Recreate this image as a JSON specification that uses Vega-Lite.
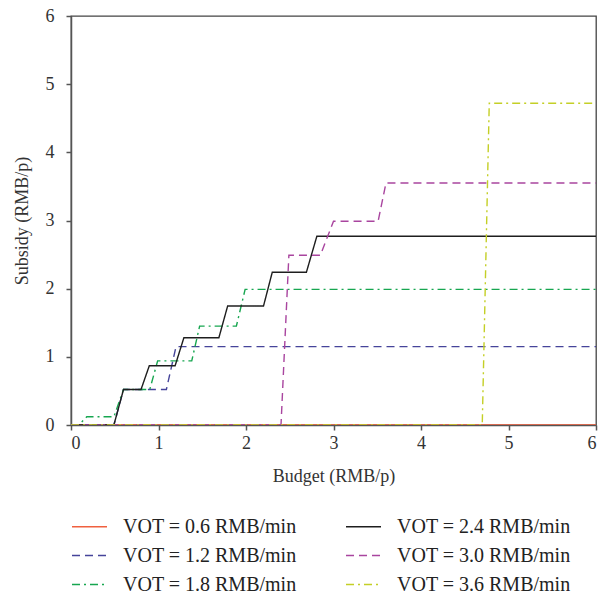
{
  "$schema": "https://vega.github.io/schema/vega-lite/v6.json",
  "width": 525,
  "height": 409,
  "autosize": {"type": "none"},
  "padding": {"left": 71, "top": 16, "right": 2, "bottom": 168},
  "config": {
    "font": "Liberation Serif",
    "view": {"stroke": "#444444", "strokeWidth": 1.3},
    "axis": {
      "grid": false,
      "domainColor": "#555555",
      "domainWidth": 1.5,
      "tickColor": "#555555",
      "tickWidth": 1.5,
      "tickSize": 5,
      "labelFont": "Liberation Serif",
      "labelFontSize": 18,
      "labelColor": "#333333",
      "titleFont": "Liberation Serif",
      "titleFontSize": 18,
      "titleFontWeight": "normal",
      "titleColor": "#333333"
    }
  },
  "data": {
    "values": [
      {"vot": "VOT = 0.6 RMB/min", "budget": 0, "subsidy": 0},
      {"vot": "VOT = 0.6 RMB/min", "budget": 6, "subsidy": 0},

      {"vot": "VOT = 1.2 RMB/min", "budget": 0, "subsidy": 0},
      {"vot": "VOT = 1.2 RMB/min", "budget": 0.49, "subsidy": 0},
      {"vot": "VOT = 1.2 RMB/min", "budget": 0.6, "subsidy": 0.52},
      {"vot": "VOT = 1.2 RMB/min", "budget": 1.09, "subsidy": 0.52},
      {"vot": "VOT = 1.2 RMB/min", "budget": 1.2, "subsidy": 1.15},
      {"vot": "VOT = 1.2 RMB/min", "budget": 6, "subsidy": 1.15},

      {"vot": "VOT = 1.8 RMB/min", "budget": 0, "subsidy": 0},
      {"vot": "VOT = 1.8 RMB/min", "budget": 0.09, "subsidy": 0},
      {"vot": "VOT = 1.8 RMB/min", "budget": 0.18, "subsidy": 0.12},
      {"vot": "VOT = 1.8 RMB/min", "budget": 0.49, "subsidy": 0.12},
      {"vot": "VOT = 1.8 RMB/min", "budget": 0.6, "subsidy": 0.52},
      {"vot": "VOT = 1.8 RMB/min", "budget": 0.9, "subsidy": 0.52},
      {"vot": "VOT = 1.8 RMB/min", "budget": 0.99, "subsidy": 0.94},
      {"vot": "VOT = 1.8 RMB/min", "budget": 1.38, "subsidy": 0.94},
      {"vot": "VOT = 1.8 RMB/min", "budget": 1.47, "subsidy": 1.45},
      {"vot": "VOT = 1.8 RMB/min", "budget": 1.89, "subsidy": 1.45},
      {"vot": "VOT = 1.8 RMB/min", "budget": 1.99, "subsidy": 1.99},
      {"vot": "VOT = 1.8 RMB/min", "budget": 6, "subsidy": 1.99},

      {"vot": "VOT = 2.4 RMB/min", "budget": 0, "subsidy": 0},
      {"vot": "VOT = 2.4 RMB/min", "budget": 0.49, "subsidy": 0},
      {"vot": "VOT = 2.4 RMB/min", "budget": 0.6, "subsidy": 0.52},
      {"vot": "VOT = 2.4 RMB/min", "budget": 0.8, "subsidy": 0.52},
      {"vot": "VOT = 2.4 RMB/min", "budget": 0.895, "subsidy": 0.87},
      {"vot": "VOT = 2.4 RMB/min", "budget": 1.19, "subsidy": 0.87},
      {"vot": "VOT = 2.4 RMB/min", "budget": 1.29, "subsidy": 1.28},
      {"vot": "VOT = 2.4 RMB/min", "budget": 1.69, "subsidy": 1.28},
      {"vot": "VOT = 2.4 RMB/min", "budget": 1.79, "subsidy": 1.745},
      {"vot": "VOT = 2.4 RMB/min", "budget": 2.2, "subsidy": 1.745},
      {"vot": "VOT = 2.4 RMB/min", "budget": 2.3, "subsidy": 2.24},
      {"vot": "VOT = 2.4 RMB/min", "budget": 2.69, "subsidy": 2.24},
      {"vot": "VOT = 2.4 RMB/min", "budget": 2.81, "subsidy": 2.77},
      {"vot": "VOT = 2.4 RMB/min", "budget": 6, "subsidy": 2.77},

      {"vot": "VOT = 3.0 RMB/min", "budget": 0, "subsidy": 0},
      {"vot": "VOT = 3.0 RMB/min", "budget": 2.4, "subsidy": 0},
      {"vot": "VOT = 3.0 RMB/min", "budget": 2.49, "subsidy": 2.49},
      {"vot": "VOT = 3.0 RMB/min", "budget": 2.85, "subsidy": 2.49},
      {"vot": "VOT = 3.0 RMB/min", "budget": 3.0, "subsidy": 2.99},
      {"vot": "VOT = 3.0 RMB/min", "budget": 3.51, "subsidy": 2.99},
      {"vot": "VOT = 3.0 RMB/min", "budget": 3.6, "subsidy": 3.55},
      {"vot": "VOT = 3.0 RMB/min", "budget": 6, "subsidy": 3.55},

      {"vot": "VOT = 3.6 RMB/min", "budget": 0, "subsidy": 0},
      {"vot": "VOT = 3.6 RMB/min", "budget": 4.7, "subsidy": 0},
      {"vot": "VOT = 3.6 RMB/min", "budget": 4.78, "subsidy": 4.72},
      {"vot": "VOT = 3.6 RMB/min", "budget": 6, "subsidy": 4.72}
    ]
  },
  "mark": {"type": "line", "strokeWidth": 1.4, "clip": true},
  "encoding": {
    "x": {
      "field": "budget",
      "type": "quantitative",
      "scale": {"domain": [0, 6], "nice": false, "zero": false},
      "axis": {"title": "Budget (RMB/p)", "values": [0, 1, 2, 3, 4, 5, 6], "labelPadding": 4, "titlePadding": 15}
    },
    "y": {
      "field": "subsidy",
      "type": "quantitative",
      "scale": {"domain": [0, 6], "nice": false},
      "axis": {"title": "Subsidy (RMB/p)", "values": [0, 1, 2, 3, 4, 5, 6], "labelPadding": 12, "titlePadding": 14}
    },
    "color": {
      "field": "vot",
      "type": "nominal",
      "scale": {
        "domain": ["VOT = 0.6 RMB/min", "VOT = 1.2 RMB/min", "VOT = 1.8 RMB/min", "VOT = 2.4 RMB/min", "VOT = 3.0 RMB/min", "VOT = 3.6 RMB/min"],
        "range": ["#f0603f", "#46449a", "#17a650", "#1e1e1e", "#a9459f", "#c4cf26"]
      },
      "legend": {
        "title": null,
        "orient": "none",
        "legendX": 0,
        "legendY": 492,
        "columns": 2,
        "columnPadding": 46,
        "rowPadding": 0,
        "padding": 0,
        "symbolType": "stroke",
        "symbolSize": 1225,
        "symbolStrokeWidth": 1.5,
        "labelOffset": 15,
        "labelFont": "Liberation Serif",
        "labelFontSize": 20,
        "labelColor": "#222222",
        "labelLimit": 300
      }
    },
    "strokeDash": {
      "field": "vot",
      "type": "nominal",
      "scale": {
        "domain": ["VOT = 0.6 RMB/min", "VOT = 1.2 RMB/min", "VOT = 1.8 RMB/min", "VOT = 2.4 RMB/min", "VOT = 3.0 RMB/min", "VOT = 3.6 RMB/min"],
        "range": [[1, 0], [8, 5], [8, 4, 2, 4], [1, 0], [8, 5], [8, 4, 2, 4]]
      },
      "legend": {
        "title": null,
        "orient": "none",
        "legendX": 0,
        "legendY": 492,
        "columns": 2,
        "columnPadding": 46,
        "rowPadding": 0,
        "padding": 0,
        "symbolType": "stroke",
        "symbolSize": 1225,
        "symbolStrokeWidth": 1.5,
        "labelOffset": 15,
        "labelFont": "Liberation Serif",
        "labelFontSize": 20,
        "labelColor": "#222222",
        "labelLimit": 300
      }
    }
  }
}
